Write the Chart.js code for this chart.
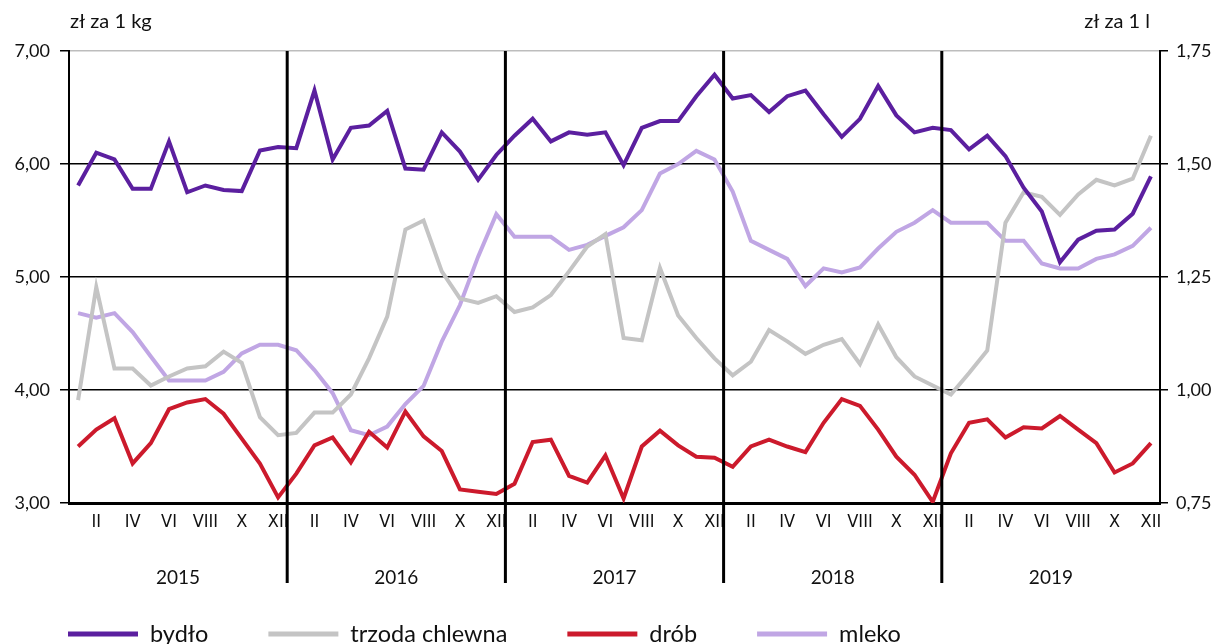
<!DOCTYPE html>
<html lang="pl">
<head>
    <meta charset="UTF-8">
    <title>Ceny produktów rolnych</title>
    <script src="https://cdn.jsdelivr.net/npm/chart.js"></script>
    <style>
        html, body {
            margin: 0;
            padding: 0;
            background: #fff;
        }
        .chart-container {
            width: 1220px;
            height: 644px;
        }
    </style>
</head>
<body>
    <div class="chart-container">
        <canvas id="priceChart" width="1220" height="644"></canvas>
    </div>
    <script>
        // miesiące 2015-2019
        const years = ['2015', '2016', '2017', '2018', '2019'];
        const monthNames = ['I', 'II', 'III', 'IV', 'V', 'VI', 'VII', 'VIII', 'IX', 'X', 'XI', 'XII'];

        // zł za 1 kg
        const bydlo = [
            5.81, 6.10, 6.04, 5.78, 5.78, 6.20, 5.75, 5.81, 5.77, 5.76, 6.12, 6.15,
            6.14, 6.65, 6.04, 6.32, 6.34, 6.47, 5.96, 5.95, 6.28, 6.11, 5.86, 6.08,
            6.25, 6.40, 6.20, 6.28, 6.26, 6.28, 5.99, 6.32, 6.38, 6.38, 6.60, 6.79,
            6.58, 6.61, 6.46, 6.60, 6.65, 6.44, 6.24, 6.40, 6.69, 6.43, 6.28, 6.32,
            6.30, 6.13, 6.25, 6.07, 5.79, 5.58, 5.13, 5.33, 5.41, 5.42, 5.56, 5.89
        ];
        const trzoda = [
            3.91, 4.91, 4.19, 4.19, 4.04, 4.12, 4.19, 4.21, 4.34, 4.24, 3.76, 3.60,
            3.62, 3.80, 3.80, 3.96, 4.28, 4.65, 5.42, 5.50, 5.05, 4.81, 4.77, 4.83,
            4.69, 4.73, 4.84, 5.05, 5.27, 5.38, 4.46, 4.44, 5.08, 4.66, 4.46, 4.28,
            4.13, 4.25, 4.53, 4.43, 4.32, 4.40, 4.45, 4.23, 4.58, 4.29, 4.12, 4.04,
            3.96, 4.15, 4.35, 5.48, 5.75, 5.71, 5.55, 5.73, 5.86, 5.81, 5.87, 6.25
        ];
        const drob = [
            3.50, 3.65, 3.75, 3.35, 3.53, 3.83, 3.89, 3.92, 3.79, 3.57, 3.35, 3.05,
            3.26, 3.51, 3.58, 3.36, 3.63, 3.49, 3.81, 3.59, 3.46, 3.12, 3.10, 3.08,
            3.17, 3.54, 3.56, 3.24, 3.18, 3.42, 3.04, 3.50, 3.64, 3.51, 3.41, 3.40,
            3.32, 3.50, 3.56, 3.50, 3.45, 3.71, 3.92, 3.86, 3.65, 3.41, 3.25, 3.01,
            3.44, 3.71, 3.74, 3.58, 3.67, 3.66, 3.77, 3.65, 3.53, 3.27, 3.35, 3.53
        ];
        // zł za 1 l
        const mleko = [
            1.170, 1.160, 1.170, 1.128, 1.074, 1.021, 1.021, 1.021, 1.040, 1.081, 1.100, 1.100,
            1.088, 1.044, 0.993, 0.911, 0.900, 0.919, 0.969, 1.009, 1.107, 1.188, 1.295, 1.389,
            1.339, 1.339, 1.339, 1.310, 1.321, 1.341, 1.360, 1.398, 1.479, 1.500, 1.529, 1.510,
            1.439, 1.330, 1.310, 1.290, 1.230, 1.269, 1.260, 1.271, 1.313, 1.350, 1.370, 1.398,
            1.370, 1.370, 1.370, 1.330, 1.330, 1.280, 1.269, 1.269, 1.290, 1.300, 1.319, 1.359
        ];

        const labels = [];
        years.forEach(y => monthNames.forEach(m => labels.push(m + ' ' + y)));

        const fontMain = 'Lato, "Noto Sans", sans-serif';
        const fontNarrow = '"Liberation Sans Narrow", "DejaVu Sans Condensed", Lato, sans-serif';

        const plnFormat = v => v.toFixed(2).replace('.', ',');

        // podpisy osi, linie lat, lata i legenda
        const decorations = {
            id: 'decorations',
            afterDraw(chart) {
                const ctx = chart.ctx;
                const area = chart.chartArea;
                const x = chart.scales.x;
                ctx.save();
                ctx.fillStyle = '#111';
                ctx.font = '20px ' + fontMain;
                ctx.textBaseline = 'middle';
                ctx.textAlign = 'left';
                ctx.fillText('zł za 1 kg', 70, 22);
                ctx.textAlign = 'right';
                ctx.fillText('zł za 1 l', 1150, 22);

                // linie oddzielające lata
                ctx.strokeStyle = '#000';
                ctx.lineWidth = 3;
                for (let k = 1; k < years.length; k++) {
                    const px = (x.getPixelForValue(12 * k - 1) + x.getPixelForValue(12 * k)) / 2;
                    ctx.beginPath();
                    ctx.moveTo(px, area.top);
                    ctx.lineTo(px, area.bottom + 80);
                    ctx.stroke();
                }

                // lata
                ctx.font = '19px ' + fontMain;
                ctx.textAlign = 'center';
                years.forEach((y, k) => {
                    const cx = (x.getPixelForValue(12 * k) + x.getPixelForValue(12 * k + 11)) / 2;
                    ctx.fillText(y, cx, area.bottom + 75);
                });

                // legenda
                ctx.font = '23.5px ' + fontMain;
                ctx.textAlign = 'left';
                let lx = 68;
                const ly = 634;
                chart.data.datasets.forEach(ds => {
                    ctx.strokeStyle = ds.borderColor;
                    ctx.lineWidth = 5;
                    ctx.beginPath();
                    ctx.moveTo(lx, ly);
                    ctx.lineTo(lx + 70, ly);
                    ctx.stroke();
                    ctx.fillStyle = '#111';
                    ctx.fillText(ds.label, lx + 82, ly);
                    lx += 82 + ctx.measureText(ds.label).width + 60;
                });
                ctx.restore();
            }
        };

        const ctx = document.getElementById('priceChart').getContext('2d');
        new Chart(ctx, {
            type: 'line',
            data: {
                labels: labels,
                datasets: [
                    { label: 'bydło', data: bydlo, borderColor: '#5b1f9f', yAxisID: 'y' },
                    { label: 'trzoda chlewna', data: trzoda, borderColor: '#c4c4c4', yAxisID: 'y' },
                    { label: 'drób', data: drob, borderColor: '#cc1a2c', yAxisID: 'y' },
                    { label: 'mleko', data: mleko, borderColor: '#c0a6e4', yAxisID: 'y1' }
                ]
            },
            options: {
                responsive: false,
                animation: false,
                layout: { padding: { top: 51, left: 0, right: 0, bottom: 0 } },
                elements: {
                    line: { borderWidth: 4, tension: 0, borderJoinStyle: 'miter' },
                    point: { radius: 0 }
                },
                plugins: {
                    legend: { display: false },
                    tooltip: { enabled: false }
                },
                scales: {
                    x: {
                        offset: true,
                        afterFit(scale) { scale.height = 141; },
                        grid: { display: false, drawTicks: false },
                        border: { display: true, color: '#000', width: 3 },
                        ticks: {
                            autoSkip: false,
                            maxRotation: 0,
                            padding: 9,
                            color: '#111',
                            font: { family: fontNarrow, size: 18 },
                            callback: (v, i) => (i % 2 === 1 ? monthNames[i % 12] : '')
                        }
                    },
                    y: {
                        position: 'left',
                        min: 3,
                        max: 7,
                        afterFit(scale) { scale.width = 69; },
                        grid: {
                            color: c => (c.tick && c.tick.value === 7 ? '#bdbdbd' : '#000'),
                            lineWidth: 1.5,
                            tickColor: '#000',
                            tickLength: 9
                        },
                        border: { color: '#000', width: 2 },
                        ticks: {
                            stepSize: 1,
                            padding: 10,
                            color: '#111',
                            font: { family: fontMain, size: 18 },
                            callback: v => plnFormat(v)
                        }
                    },
                    y1: {
                        position: 'right',
                        min: 0.75,
                        max: 1.75,
                        afterFit(scale) { scale.width = 60; },
                        grid: {
                            drawOnChartArea: false,
                            tickColor: '#000',
                            tickLength: 8,
                            lineWidth: 1.5
                        },
                        border: { color: '#000', width: 2 },
                        ticks: {
                            stepSize: 0.25,
                            padding: 8,
                            color: '#111',
                            font: { family: fontMain, size: 18 },
                            callback: v => plnFormat(v)
                        }
                    }
                }
            },
            plugins: [decorations]
        });
    </script>
</body>
</html>
